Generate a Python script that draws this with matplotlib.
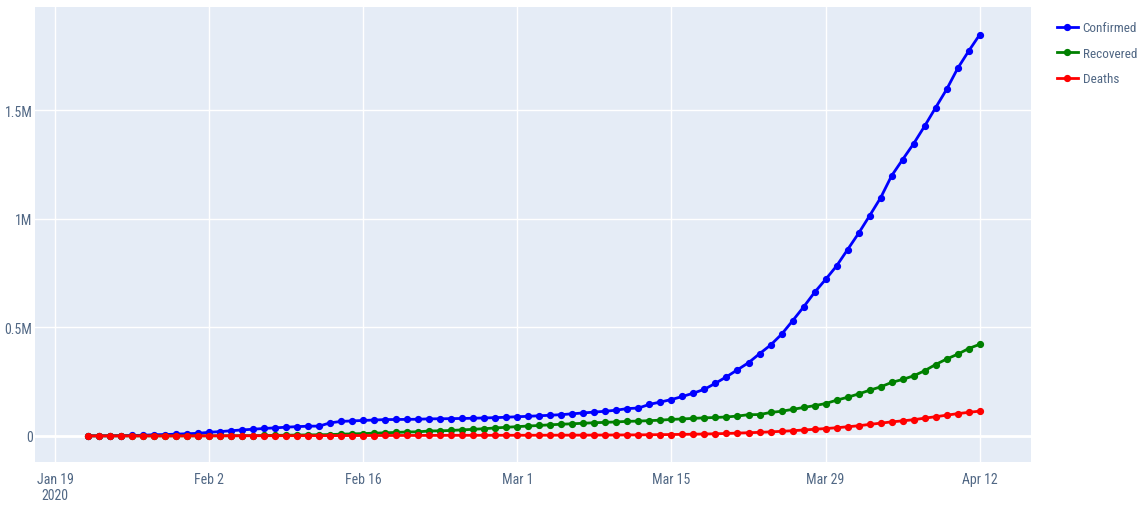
import matplotlib
matplotlib.use("Agg")
import matplotlib.pyplot as plt
from matplotlib import font_manager
import pandas as pd

# Cumulative global counts, Jan 22 -> Apr 12 2020
dates = pd.date_range("2020-01-22", "2020-04-12", freq="D")

confirmed = [
    555, 654, 941, 1434, 2118, 2927, 5578, 6166, 8234, 9927,
    12038, 16787, 19881, 23892, 27635, 30794, 34391, 37120, 40150, 42762,
    44802, 45221, 60368, 66885, 69030, 71224, 73258, 75136, 75639, 76197,
    76819, 78572, 78958, 79561, 80406, 81388, 82746, 84112, 86011,
    88369, 90306, 92840, 95120, 97886, 101801, 105847, 109821, 113590, 118620,
    125875, 128352, 145205, 156101, 167454, 181574, 197102, 214821, 242570, 272208,
    304507, 336953, 378235, 418045, 467653, 529591, 593291, 660706, 720117, 782365,
    857487,
    932605, 1013466, 1095917, 1197405, 1272115, 1345101, 1426096, 1511104, 1595350,
    1691719, 1771514, 1846680,
]
recovered = [
    28, 30, 36, 39, 52, 61, 107, 126, 143, 222,
    284, 472, 623, 852, 1124, 1487, 2011, 2616, 3244, 3946,
    4683, 5150, 6295, 8058, 9395, 10865, 12583, 14352, 16121, 18177,
    18890, 22886, 23394, 25227, 27905, 30384, 33277, 36711, 39782,
    42716, 45602, 48228, 51170, 53796, 55865, 58358, 60694, 62494, 64404,
    67003, 68324, 70251, 72624, 76034, 78088, 80840, 83207, 84854, 87256,
    91499, 97704, 98316, 107960, 113604, 122075, 130921, 139424, 148866, 164495,
    177937,
    193210, 210156, 225793, 246152, 260005, 276519, 300054, 328671, 353975,
    376096, 402110, 421722,
]
deaths = [
    17, 18, 26, 42, 56, 82, 131, 133, 171, 213,
    259, 362, 426, 492, 564, 634, 719, 806, 906, 1013,
    1113, 1118, 1371, 1523, 1666, 1770, 1868, 2007, 2122, 2247,
    2251, 2458, 2469, 2629, 2708, 2770, 2814, 2872, 2941,
    2996, 3085, 3160, 3254, 3348, 3460, 3558, 3802, 3988, 4262,
    4615, 4720, 5404, 5819, 6440, 7126, 7905, 8733, 9867, 11299,
    12973, 14623, 16497, 18615, 21181, 23970, 27198, 30652, 33925, 37582,
    42107,
    46809, 52983, 58787, 64606, 69374, 74565, 81865, 88338, 95455,
    102525, 108503, 114091,
]

series = [("Confirmed", confirmed, "blue"),
          ("Recovered", recovered, "green"),
          ("Deaths", deaths, "red")]

tick_dates = pd.to_datetime(["2020-01-19", "2020-02-02", "2020-02-16", "2020-03-01",
                             "2020-03-15", "2020-03-29", "2020-04-12"])
tick_labels = ["Jan 19\n2020", "Feb 2", "Feb 16", "Mar 1", "Mar 15", "Mar 29", "Apr 12"]
y_ticks = [0, 500000, 1000000, 1500000]
y_labels = ["0", "0.5M", "1M", "1.5M"]

# narrow face if we have one, like the condensed look of the original
names = {f.name for f in font_manager.fontManager.ttflist}
fams = [n for n in ["Liberation Sans Narrow", "Roboto Condensed", "Open Sans"] if n in names]
plt.rcParams["font.family"] = fams + ["DejaVu Sans"]
txt = "#506784"
fs = 10 if fams and fams[0] != "Open Sans" else 8.5

fig = plt.figure(figsize=(11.4, 5.06), dpi=100)
ax = fig.add_axes([0.031, 0.085, 0.873, 0.899])
ax.set_facecolor("#E5ECF6")

for name, vals, col in series:
    ax.plot(dates, vals, color=col, linewidth=2, marker="o", markersize=4.2, label=name)

ax.set_xlim(pd.Timestamp("2020-01-17 05:00"), pd.Timestamp("2020-04-16 15:00"))
ax.set_ylim(-120000, 1974000)
ax.set_xticks(tick_dates)
ax.set_xticklabels(tick_labels)
ax.set_yticks(y_ticks)
ax.set_yticklabels(y_labels)
for lab in ax.get_xticklabels():
    lab.set_horizontalalignment("center")

ax.grid(True, color="white", linewidth=1)
ax.axhline(0, color="white", linewidth=2, zorder=1)
ax.set_axisbelow(True)
for s in ax.spines.values():
    s.set_visible(False)
ax.tick_params(axis="x", length=0, colors=txt, labelsize=fs, pad=7)
ax.tick_params(axis="y", length=0, colors=txt, labelsize=fs, pad=2)

leg = fig.legend(*ax.get_legend_handles_labels(), loc="upper left",
                 bbox_to_anchor=(0.919, 0.974), frameon=False, borderpad=0.2,
                 fontsize=fs - 0.5, handlelength=1.6, handletextpad=0.35, labelspacing=0.95)
for t in leg.get_texts():
    t.set_color(txt)

fig.savefig("out.png", dpi=100, facecolor="white")
